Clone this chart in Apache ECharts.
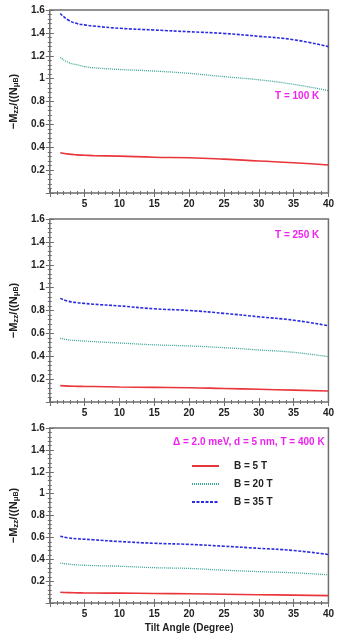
<!DOCTYPE html>
<html>
<head>
<meta charset="utf-8">
<script src="https://cdn.jsdelivr.net/npm/echarts@6/dist/echarts.min.js"></script>
<style>
  html, body { margin: 0; padding: 0; background: #fff; }
  #chart { width: 337px; height: 634px; }
</style>
</head>
<body>
<div id="chart"></div>
<script>
// tilt angle (degree) sample points, shared by all panels
const tiltAngles = [1.5, 2.7, 4, 5, 6.25, 10, 15, 20, 25, 30, 35, 40]

// T = 100 K
const t100B5 = [0.352, 0.34, 0.333, 0.33, 0.327, 0.322, 0.313, 0.308, 0.296, 0.28, 0.265, 0.245]
const t100B20 = [1.185, 1.14, 1.12, 1.105, 1.095, 1.08, 1.066, 1.046, 1.017, 0.99, 0.95, 0.895]
const t100B35 = [1.57, 1.51, 1.48, 1.47, 1.46, 1.44, 1.425, 1.41, 1.395, 1.37, 1.34, 1.28]

// T = 250 K
const t250B5 = [0.143, 0.139, 0.137, 0.136, 0.135, 0.131, 0.128, 0.125, 0.118, 0.111, 0.104, 0.096]
const t250B20 = [0.557, 0.543, 0.537, 0.533, 0.528, 0.516, 0.5, 0.49, 0.475, 0.455, 0.434, 0.396]
const t250B35 = [0.906, 0.88, 0.868, 0.862, 0.855, 0.84, 0.815, 0.8, 0.775, 0.745, 0.715, 0.667]

// T = 400 K
const t400B5 = [0.098, 0.095, 0.093, 0.092, 0.091, 0.09, 0.087, 0.084, 0.08, 0.076, 0.072, 0.067]
const t400B20 = [0.365, 0.355, 0.348, 0.345, 0.342, 0.336, 0.323, 0.316, 0.3, 0.287, 0.276, 0.258]
const t400B35 = [0.611, 0.595, 0.587, 0.583, 0.578, 0.562, 0.546, 0.536, 0.519, 0.5, 0.48, 0.443]

const panelLabels = ['T = 100 K', 'T = 250 K', '\u0394 = 2.0 meV, d = 5 nm, T = 400 K']
const seriesNames = ['B = 5 T', 'B = 20 T', 'B = 35 T']

const FONT = 'Liberation Sans, Arial, sans-serif'
const FRAME = '#6e6e6e'
const RED = '#e8363a'
const GREEN = '#3aa595'
const BLUE = '#2b2be0'
const MAGENTA = '#ee22ee'

const panels = [
  [t100B5, t100B20, t100B35],
  [t250B5, t250B20, t250B35],
  [t400B5, t400B20, t400B35],
]

const grids = [
  { left: 34, top: 10, width: 297, height: 183 },
  { left: 34, top: 219, width: 297, height: 183 },
  { left: 34, top: 428, width: 297, height: 184 },
]

const pair = (xs, ys) => xs.map((x, i) => [x, ys[i]])

const tickStyle = { show: true, inside: true, length: 4, lineStyle: { color: FRAME, width: 1 } }
const minorStyle = { show: true, splitNumber: 5, length: 2, lineStyle: { color: FRAME, width: 1 } }

const xAxes = []
const yAxes = []
const series = []

grids.forEach((g, i) => {
  // bottom axis with labels
  xAxes.push({
    gridIndex: i, type: 'value', min: 0, max: 40, interval: 5,
    axisLine: { show: false },
    axisTick: tickStyle,
    minorTick: minorStyle,
    splitLine: { show: false },
    axisLabel: {
      margin: 6, color: '#222', fontFamily: FONT, fontWeight: 'bold', fontSize: 10,
      formatter: v => (v === 0 ? '' : String(v)),
    },
    name: i === 2 ? 'Tilt Angle (Degree)' : '',
    nameLocation: 'middle', nameGap: 20,
    nameTextStyle: { color: '#222', fontFamily: FONT, fontWeight: 'bold', fontSize: 10 },
  })
  // top axis, ticks only
  xAxes.push({
    gridIndex: i, type: 'value', position: 'top', min: 0, max: 40, interval: 5,
    axisLine: { show: false }, axisTick: tickStyle, minorTick: minorStyle,
    splitLine: { show: false }, axisLabel: { show: false },
  })
  yAxes.push({
    gridIndex: i, type: 'value', min: 0, max: 1.6, interval: 0.2,
    axisLine: { show: false },
    axisTick: tickStyle,
    minorTick: minorStyle,
    splitLine: { show: false },
    axisLabel: {
      margin: 5, color: '#222', fontFamily: FONT, fontWeight: 'bold', fontSize: 10,
      formatter: v => (v === 0 ? '' : String(Math.round(v * 10) / 10)),
    },
    name: '{b|\u2212M}{s|zz}{b|/((N}{s|\u03bc}{ss|B}{b|)}',
    nameLocation: 'middle', nameGap: 22, nameRotate: 90,
    nameTextStyle: {
      rich: {
        b: { fontFamily: FONT, fontWeight: 'bold', fontSize: 11, color: '#222' },
        s: { fontFamily: FONT, fontWeight: 'bold', fontSize: 8, color: '#222', verticalAlign: 'bottom', padding: [5, 0, 0, 0] },
        ss: { fontFamily: FONT, fontWeight: 'bold', fontSize: 7, color: '#222', verticalAlign: 'bottom', padding: [5, 0, 0, 0] },
      },
    },
  })
  yAxes.push({
    gridIndex: i, type: 'value', position: 'right', min: 0, max: 1.6, interval: 0.2,
    axisLine: { show: false }, axisTick: tickStyle, minorTick: minorStyle,
    splitLine: { show: false }, axisLabel: { show: false },
  })

  const [d5, d20, d35] = panels[i]
  const common = { type: 'line', xAxisIndex: i * 2, yAxisIndex: i * 2, showSymbol: false, symbol: 'none', smooth: true, silent: true, animation: false }
  series.push(
    { ...common, name: seriesNames[0], data: pair(tiltAngles, d5), lineStyle: { color: RED, width: 1.6, type: 'solid' }, itemStyle: { color: RED } },
    { ...common, name: seriesNames[1], data: pair(tiltAngles, d20), lineStyle: { color: GREEN, width: 1.3, type: [1, 1] }, itemStyle: { color: GREEN } },
    { ...common, name: seriesNames[2], data: pair(tiltAngles, d35), lineStyle: { color: BLUE, width: 1.6, type: [3, 1.5] }, itemStyle: { color: BLUE } },
  )
})

const chart = echarts.init(document.getElementById('chart'), null, { renderer: 'canvas' })
chart.setOption({
  animation: false,
  backgroundColor: '#fff',
  grid: grids.map(g => ({ ...g, show: true, borderColor: FRAME, borderWidth: 1.5, backgroundColor: '#fff', containLabel: false })),
  xAxis: xAxes,
  yAxis: yAxes,
  series: series,
  legend: {
    // only the legend of the last panel
    data: seriesNames,
    orient: 'vertical', left: 186, top: 456, itemGap: 8,
    itemWidth: 27, itemHeight: 12,
    selectedMode: false,
    itemStyle: { opacity: 0 },
    textStyle: { color: '#222', fontFamily: FONT, fontWeight: 'bold', fontSize: 10, padding: [0, 0, 0, 10] },
  },
  graphic: [
    { type: 'text', left: 275, top: 91, style: { text: panelLabels[0], fill: MAGENTA, font: 'bold 10px ' + FONT } },
    { type: 'text', left: 275, top: 230, style: { text: panelLabels[1], fill: MAGENTA, font: 'bold 10px ' + FONT } },
    { type: 'text', left: 173, top: 437, style: { text: panelLabels[2], fill: MAGENTA, font: 'bold 10px ' + FONT } },
  ],
})
</script>
</body>
</html>
